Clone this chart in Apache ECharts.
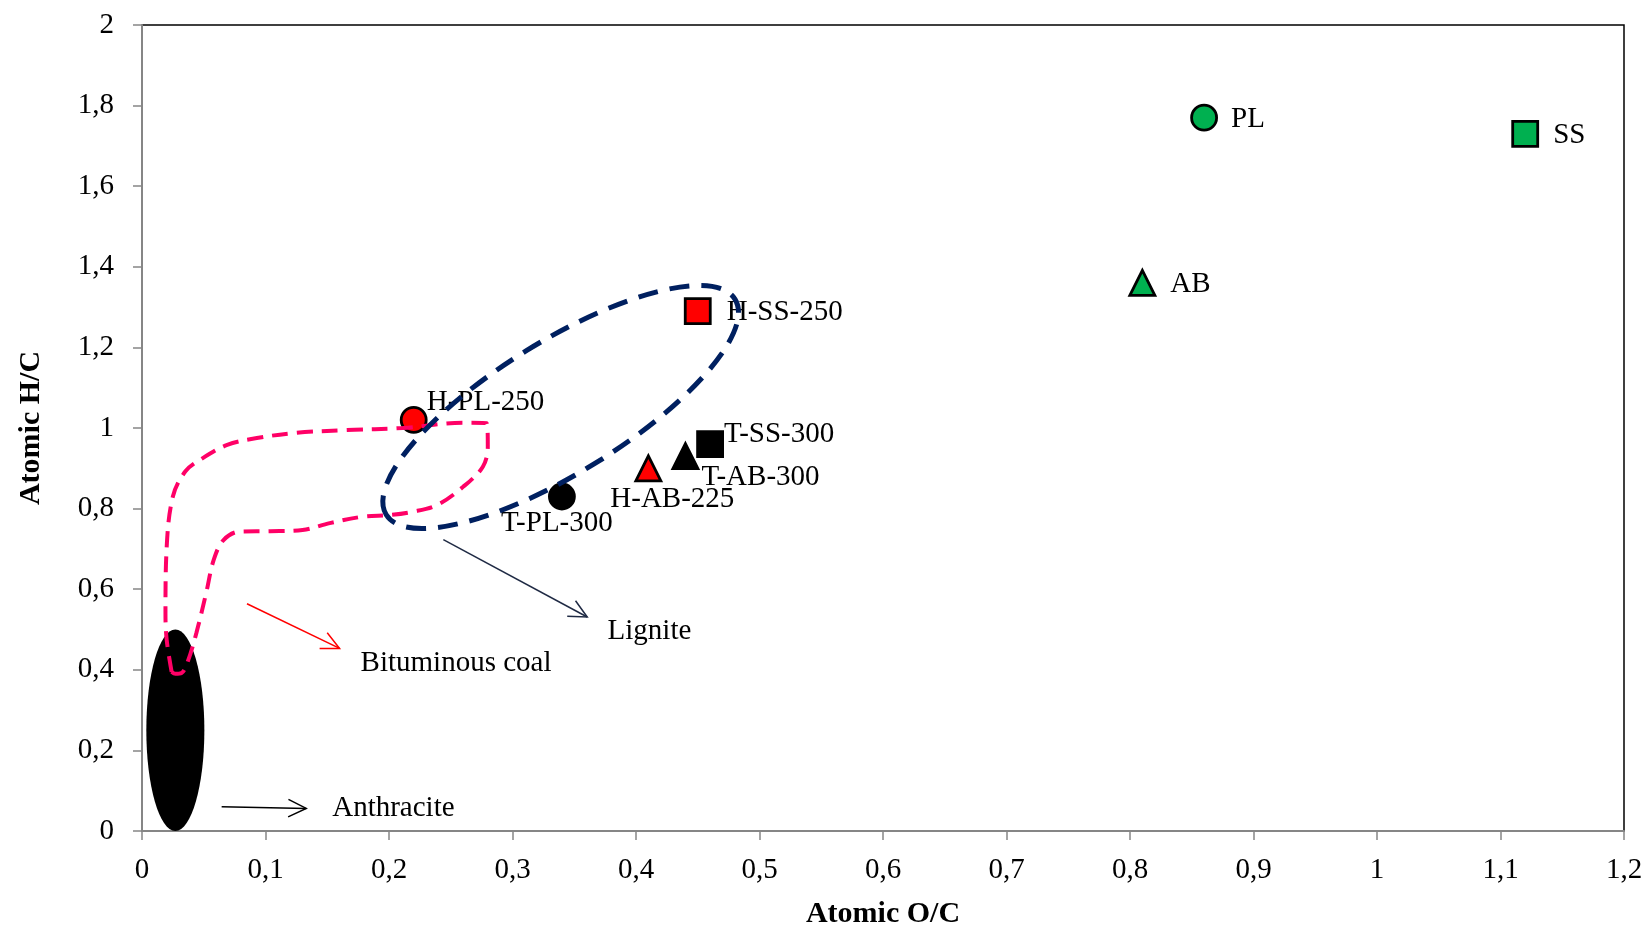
<!DOCTYPE html>
<html>
<head>
<meta charset="utf-8">
<script src="https://cdn.jsdelivr.net/npm/echarts@6/dist/echarts.min.js"></script>
<style>
html,body{margin:0;padding:0;background:#fff;}
#chart{width:1650px;height:928px;}
</style>
</head>
<body>
<div id="chart"></div>
<script>
// ---------- DATA ----------
const sampleNames = ['PL', 'SS', 'AB', 'H-PL-250', 'H-SS-250', 'H-AB-225', 'T-PL-300', 'T-SS-300', 'T-AB-300'];
const atomicOC    = [0.86, 1.12, 0.81, 0.22, 0.45, 0.41, 0.34, 0.46, 0.44];
const atomicHC    = [1.77, 1.73, 1.36, 1.02, 1.29, 0.90, 0.83, 0.96, 0.93];

const xTickLabels = ['0', '0,1', '0,2', '0,3', '0,4', '0,5', '0,6', '0,7', '0,8', '0,9', '1', '1,1', '1,2'];
const yTickLabels = ['0', '0,2', '0,4', '0,6', '0,8', '1', '1,2', '1,4', '1,6', '1,8', '2'];

// Anthracite region: [centre O/C, centre H/C, half-width O/C, half-height H/C]
const anthraciteRegion = [0.027, 0.25, 0.0235, 0.25];
// Lignite region centre (O/C, H/C)
const ligniteCentre = [0.339, 1.052];
// Bituminous coal region outline (O/C, H/C)
const bituminousOutline = [
  [0.024, 0.395], [0.020, 0.474], [0.019, 0.541], [0.020, 0.705], [0.025, 0.830],
  [0.035, 0.892], [0.047, 0.921], [0.069, 0.958], [0.093, 0.975], [0.125, 0.988],
  [0.166, 0.995], [0.211, 1.000], [0.260, 1.013], [0.279, 1.012], [0.280, 0.954],
  [0.276, 0.904], [0.260, 0.854], [0.239, 0.809], [0.219, 0.792], [0.201, 0.784],
  [0.179, 0.780], [0.152, 0.764], [0.130, 0.747], [0.104, 0.744], [0.079, 0.743],
  [0.066, 0.722], [0.058, 0.672], [0.052, 0.591], [0.044, 0.491], [0.037, 0.420],
  [0.032, 0.392], [0.027, 0.390], [0.024, 0.395]
];
// Arrows: [fromOC, fromHC, toOC, toHC]
const arrowAnthracite = [0.0645, 0.060, 0.133, 0.056];
const arrowBituminous = [0.085, 0.564, 0.160, 0.453];
const arrowLignite    = [0.244, 0.723, 0.3605, 0.531];
// Region names and anchor (left edge O/C, H/C)
const regionNames  = ['Anthracite', 'Bituminous coal', 'Lignite'];
const regionLabelOC = [0.154, 0.177, 0.377];
const regionLabelHC = [0.057, 0.417, 0.496];

// ---------- STYLE ----------
const FONT = "'Liberation Serif', 'Times New Roman', serif";
const treatmentColor = { raw: '#00B050', H: '#FF0000', T: '#000000' };
const feedSymbol = { PL: 'circle', SS: 'rect', AB: 'triangle' };
const labelLayout = {
  'PL':       { align: 'left',   offset: [27, 2] },
  'SS':       { align: 'left',   offset: [28, 2] },
  'AB':       { align: 'left',   offset: [28, 1] },
  'H-PL-250': { align: 'left',   offset: [13, -18] },
  'H-SS-250': { align: 'left',   offset: [29, 1] },
  'T-SS-300': { align: 'left',   offset: [14, -10] },
  'T-AB-300': { align: 'left',   offset: [16, 21] },
  'H-AB-225': { align: 'center', offset: [24, 31] },
  'T-PL-300': { align: 'center', offset: [-5, 27] }
};
const arrowColors = ['#000000', '#FF0000', '#1F2A44'];

function treatmentOf(n) { return n.startsWith('H-') ? 'H' : n.startsWith('T-') ? 'T' : 'raw'; }
function feedOf(n) { const p = n.split('-'); return p.length > 1 ? p[1] : p[0]; }

const pointData = sampleNames.map((n, i) => {
  const lay = labelLayout[n];
  return {
    name: n,
    value: [atomicOC[i], atomicHC[i]],
    symbol: feedSymbol[feedOf(n)],
    itemStyle: { color: treatmentColor[treatmentOf(n)], borderColor: '#000', borderWidth: 2.8, opacity: 1 },
    label: {
      show: true, formatter: n, position: 'inside', align: lay.align, verticalAlign: 'middle',
      offset: lay.offset, color: '#000', opacity: 1, fontFamily: FONT, fontSize: 29
    }
  };
});

function arrowRender(params, api) {
  const p1 = api.coord([api.value(0), api.value(1)]);
  const p2 = api.coord([api.value(2), api.value(3)]);
  const ang = Math.atan2(p2[1] - p1[1], p2[0] - p1[0]);
  const L = 20, a = 26 * Math.PI / 180;
  const h1 = [p2[0] - L * Math.cos(ang - a), p2[1] - L * Math.sin(ang - a)];
  const h2 = [p2[0] - L * Math.cos(ang + a), p2[1] - L * Math.sin(ang + a)];
  const col = arrowColors[params.dataIndex];
  return {
    type: 'group',
    children: [
      { type: 'line', shape: { x1: p1[0], y1: p1[1], x2: p2[0], y2: p2[1] }, style: { stroke: col, lineWidth: 1.5 } },
      { type: 'polyline', shape: { points: [h1, p2, h2] }, style: { stroke: col, lineWidth: 1.5, fill: null } }
    ]
  };
}

const chart = echarts.init(document.getElementById('chart'), null, { renderer: 'canvas' });
const option = {
  backgroundColor: '#ffffff',
  animation: false,
  grid: { left: 142, right: 26, top: 25, bottom: 97, outerBoundsMode: 'none', containLabel: false,
    show: true, borderColor: '#000', borderWidth: 1.5, backgroundColor: 'transparent' },
  xAxis: {
    type: 'value', min: 0, max: 1.2, interval: 0.1,
    name: 'Atomic O/C', nameLocation: 'middle', nameGap: 68,
    nameTextStyle: { fontFamily: FONT, fontWeight: 'bold', fontSize: 30, color: '#000' },
    axisLine: { show: true, onZero: false, lineStyle: { color: '#868686', width: 2 } },
    axisTick: { show: true, inside: false, length: 9, lineStyle: { color: '#868686', width: 1.5 } },
    axisLabel: { margin: 25, fontFamily: FONT, fontSize: 29, color: '#000',
      formatter: v => xTickLabels[Math.round(v / 0.1)] },
    splitLine: { show: false }
  },
  yAxis: {
    type: 'value', min: 0, max: 2, interval: 0.2,
    name: 'Atomic H/C', nameLocation: 'middle', nameGap: 96, nameRotate: 90,
    nameTextStyle: { fontFamily: FONT, fontWeight: 'bold', fontSize: 30, color: '#000' },
    axisLine: { show: true, onZero: false, lineStyle: { color: '#868686', width: 2 } },
    axisTick: { show: true, inside: false, length: 9, lineStyle: { color: '#868686', width: 1.5 } },
    axisLabel: { margin: 28, fontFamily: FONT, fontSize: 29, color: '#000',
      formatter: v => yTickLabels[Math.round(v / 0.2)] },
    splitLine: { show: false }
  },
  series: [
    {
      type: 'custom', name: 'Anthracite region', z: 1, silent: true,
      encode: { x: 0, y: 1 },
      data: [anthraciteRegion],
      renderItem: (params, api) => {
        const c = api.coord([api.value(0), api.value(1)]);
        const s = api.size([api.value(2), api.value(3)]);
        return { type: 'ellipse', shape: { cx: c[0], cy: c[1], rx: s[0], ry: s[1] }, style: { fill: '#000' } };
      }
    },
    {
      type: 'scatter', name: 'samples', z: 2, symbolSize: 25,
      itemStyle: { opacity: 1 },
      data: pointData
    },
    {
      type: 'line', name: 'Bituminous coal region', z: 3, silent: true,
      data: bituminousOutline, smooth: 0.35, showSymbol: false, symbol: 'none',
      lineStyle: { color: '#FF0066', width: 4, type: [16, 9] }
    },
    {
      type: 'custom', name: 'Lignite region', z: 4, silent: true,
      encode: { x: 0, y: 1 },
      data: [ligniteCentre],
      renderItem: (params, api) => {
        const c = api.coord([api.value(0), api.value(1)]);
        return {
          type: 'ellipse', x: c[0], y: c[1], rotation: 31.7 * Math.PI / 180,
          shape: { cx: 0, cy: 0, rx: 205, ry: 66 },
          style: { fill: null, stroke: '#002060', lineWidth: 5, lineDash: [20, 12] }
        };
      }
    },
    {
      type: 'custom', name: 'arrows', z: 5, silent: true,
      encode: { x: [0, 2], y: [1, 3] },
      data: [arrowAnthracite, arrowBituminous, arrowLignite],
      renderItem: arrowRender
    },
    {
      type: 'custom', name: 'region labels', z: 6, silent: true,
      encode: { x: 0, y: 1 },
      data: regionNames.map((n, i) => [regionLabelOC[i], regionLabelHC[i]]),
      renderItem: (params, api) => {
        const c = api.coord([api.value(0), api.value(1)]);
        return {
          type: 'text', x: c[0], y: c[1],
          style: { text: regionNames[params.dataIndex], fill: '#000', font: '29px ' + FONT, align: 'left', verticalAlign: 'middle' }
        };
      }
    }
  ]
};
chart.setOption(option);
</script>
</body>
</html>
